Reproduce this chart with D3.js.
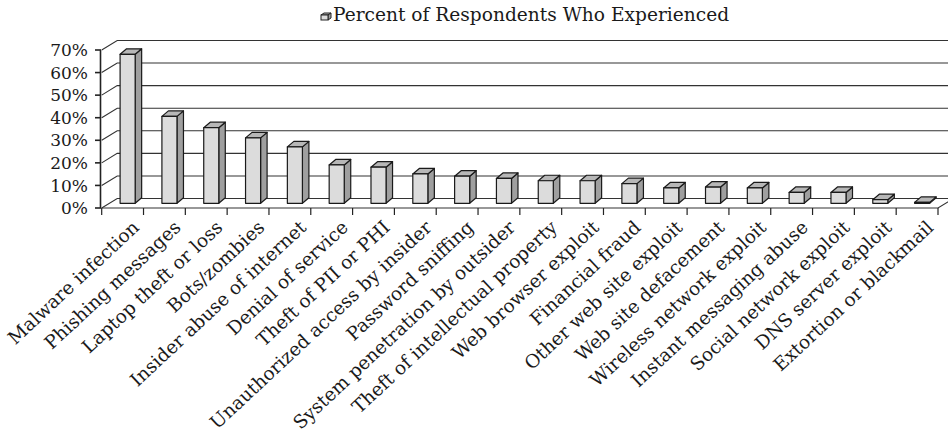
<!DOCTYPE html>
<html>
<head>
<meta charset="utf-8">
<script src="https://cdn.jsdelivr.net/npm/d3@7"></script>
<style>
  body { margin: 0; background: #fff; }
  text { font-family: "DejaVu Serif", serif; fill: #1a1a1a; }
</style>
</head>
<body>
<div id="chart"></div>
<script>
/* data */
var categories = ["Malware infection", "Phishing messages", "Laptop theft or loss", "Bots/zombies",
    "Insider abuse of internet", "Denial of service", "Theft of PII or PHI",
    "Unauthorized access by insider", "Password sniffing", "System penetration by outsider",
    "Theft of intellectual property", "Web browser exploit", "Financial fraud",
    "Other web site exploit", "Web site defacement", "Wireless network exploit",
    "Instant messaging abuse", "Social network exploit", "DNS server exploit",
    "Extortion or blackmail"];
var values = [0.66, 0.385, 0.335, 0.29, 0.25, 0.17, 0.16, 0.13, 0.12, 0.11,
    0.10, 0.10, 0.087, 0.068, 0.072, 0.068, 0.048, 0.048, 0.016, 0.004];
var yTicks = [0, 0.1, 0.2, 0.3, 0.4, 0.5, 0.6, 0.7];
var seriesName = "Percent of Respondents Who Experienced";

var width = 948,
    height = 438,
    depth = { x: 15.5, y: -9.5 },      // floor / wall depth
    barDepth = { x: 6.5, y: -5.5 },
    fontSize = 17,
    labelSize = 18.5;

var svg = d3.select("#chart")
    .append("svg")
    .attr("width", width)
    .attr("height", height);

/* scales */
var x = d3.scaleBand()
    .domain(categories)
    .range([101.7, 938]);

var y = d3.scaleLinear()
    .domain([0, 0.7])
    .range([208, 50]);

var bw = x.bandwidth(),
    barBase = 4.7;   // bars stand a little behind the front edge

function pts(arr) {
    return arr.map(function(p) { return p[0] + "," + p[1]; }).join(" ");
}

/* walls: gridlines on left wall and back wall */
var grid = svg.append("g")
    .attr("stroke", "#333")
    .attr("stroke-width", 1.1)
    .attr("fill", "none");

grid.selectAll("polyline")
    .data(yTicks)
    .enter().append("polyline")
        .attr("points", function(d) {
            var x0 = x.range()[0];
            return pts([[x0, y(d)], [x0 + depth.x, y(d) + depth.y], [width + 5, y(d) + depth.y]]);
        });

/* floor front edge and right edge */
grid.append("polyline")
    .attr("points", pts([[x.range()[0], y(0)], [x.range()[1], y(0)],
        [x.range()[1] + depth.x, y(0) + depth.y]]));

/* y axis */
var yAxis = svg.append("g")
    .attr("stroke", "#222");

yAxis.append("line")
    .attr("x1", 100.5).attr("x2", 100.5)
    .attr("y1", y(0.7)).attr("y2", y(0))
    .attr("stroke-width", 1.6);

yAxis.selectAll("line.tick")
    .data(yTicks)
    .enter().append("line")
        .attr("class", "tick")
        .attr("x1", 95).attr("x2", 101)
        .attr("y1", function(d) { return y(d); })
        .attr("y2", function(d) { return y(d); })
        .attr("stroke-width", 1.6);

svg.append("g")
    .selectAll("text")
    .data(yTicks)
    .enter().append("text")
        .attr("x", 88)
        .attr("y", function(d) { return y(d); })
        .attr("dy", "0.36em")
        .attr("text-anchor", "end")
        .attr("font-size", fontSize)
        .text(d3.format(".0%"));

/* x axis ticks */
var xTicks = categories.map(function(c) { return x(c); }).concat([x.range()[1]]);

svg.append("g")
    .attr("stroke", "#222")
    .attr("stroke-width", 1.2)
    .selectAll("line")
    .data(xTicks)
    .enter().append("line")
        .attr("x1", function(d) { return d; })
        .attr("x2", function(d) { return d; })
        .attr("y1", y(0))
        .attr("y2", y(0) + 7);

/* 3d bars */
var bars = svg.append("g")
    .attr("stroke", "#1a1a1a")
    .attr("stroke-width", 1.2)
    .attr("stroke-linejoin", "round")
    .selectAll("g")
    .data(values)
    .enter().append("g");

function corners(d, i) {
    var x0 = x(categories[i]) + bw * 0.44,
        x1 = x0 + bw * 0.36,
        yb = y(0) - barBase,
        yt = y(d) - barBase;
    return { x0: x0, x1: x1, yb: yb, yt: yt };
}

/* side face */
bars.append("polygon")
    .attr("fill", "#9f9f9f")
    .attr("points", function(d, i) {
        var c = corners(d, i);
        return pts([[c.x1, c.yb], [c.x1 + barDepth.x, c.yb + barDepth.y],
            [c.x1 + barDepth.x, c.yt + barDepth.y], [c.x1, c.yt]]);
    });

/* top face */
bars.append("polygon")
    .attr("fill", "#b7b7b7")
    .attr("points", function(d, i) {
        var c = corners(d, i);
        return pts([[c.x0, c.yt], [c.x1, c.yt], [c.x1 + barDepth.x, c.yt + barDepth.y],
            [c.x0 + barDepth.x, c.yt + barDepth.y]]);
    });

/* front face */
bars.append("rect")
    .attr("fill", "#dcdcdc")
    .attr("x", function(d, i) { return corners(d, i).x0; })
    .attr("y", function(d, i) { return corners(d, i).yt; })
    .attr("width", bw * 0.36)
    .attr("height", function(d, i) { var c = corners(d, i); return c.yb - c.yt; });

/* category labels, rotated */
svg.append("g")
    .selectAll("text")
    .data(categories)
    .enter().append("text")
        .attr("transform", function(d) {
            return "translate(" + (x(d) + bw / 2 + 13) + "," + 224 + ")rotate(-43)";
        })
        .attr("dy", "0.36em")
        .attr("text-anchor", "end")
        .attr("font-size", labelSize)
        .text(function(d) { return d; });

/* legend */
var legend = svg.append("g")
    .attr("transform", "translate(321,13)");

legend.append("polygon")
    .attr("points", pts([[0, 2], [3, 0], [10, 0], [7, 2]]))
    .attr("fill", "#b7b7b7").attr("stroke", "#222");
legend.append("polygon")
    .attr("points", pts([[7, 2], [10, 0], [10, 5], [7, 7]]))
    .attr("fill", "#9f9f9f").attr("stroke", "#222");
legend.append("rect")
    .attr("x", 0).attr("y", 2).attr("width", 7).attr("height", 5)
    .attr("fill", "#dcdcdc").attr("stroke", "#222");

legend.append("text")
    .attr("x", 12)
    .attr("y", 8)
    .attr("font-size", 18.6)
    .text(seriesName);
</script>
</body>
</html>
